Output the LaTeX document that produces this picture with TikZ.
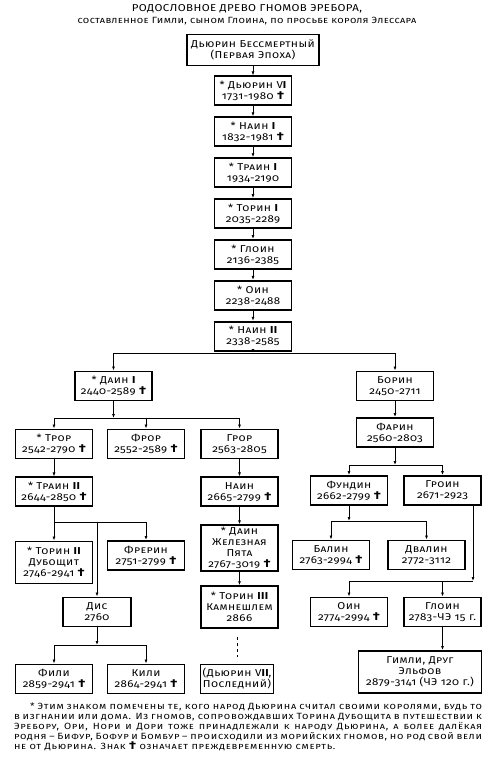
\documentclass[tikz,border=0pt]{standalone}
\usepackage{fontspec}
\setmainfont{Fira Sans}[Numbers=OldStyle, FakeStretch=1.15, LetterSpace=4]
\usetikzlibrary{positioning,arrows.meta}

\newcommand{\rn}[1]{{\bfseries #1}}
\newcommand{\dg}{{\fontsize{11.5}{11}\selectfont\bfseries †}}

\begin{document}
\begin{tikzpicture}[
        x=1pt, y=-1pt,
        node distance=10pt,
        dwarf/.style={draw, line width=1.9pt, minimum width=77pt, minimum height=29pt, inner sep=1pt, align=center, font=\fontsize{10}{11}\selectfont\scshape},
        tall/.style={dwarf, minimum height=42pt},
        link/.style={line width=0.8pt},
        >={Latex[length=4pt,width=3pt]}
    ]
        \useasboundingbox (0,0) rectangle (490,765);

        % Title
        \node (title) at (247,9) {\fontsize{10}{12}\selectfont РОДОСЛОВНОЕ ДРЕВО ГНОМОВ ЭРЕБОРА,};
        \node (subtitle) at (247,21) {\fontsize{9}{10}\selectfont\scshape составленное Гимли, сыном Глоина, по просьбе короля Элессара};

        % Main line
        \node[dwarf, minimum width=132pt, minimum height=31pt] (durin1) at (253,50) {Дьюрин Бессмертный\\(Первая Эпоха)};
        \node[dwarf, below=9pt of durin1] (durin6) {* Дьюрин V\rn{I}\\1731-1980 \dg};
        \node[dwarf, below=of durin6] (nain1) {* Наин \rn{I}\\1832-1981 \dg};
        \node[dwarf, below=of nain1] (thrain1) {* Траин \rn{I}\\1934-2190};
        \node[dwarf, below=of thrain1] (thorin1) {* Торин \rn{I}\\2035-2289};
        \node[dwarf, below=of thorin1] (gloin1) {* Глоин\\2136-2385};
        \node[dwarf, below=of gloin1] (oin1) {* Оин\\2238-2488};
        \node[dwarf, below=of oin1] (nain2) {* Наин \rn{II}\\2338-2585};

        % Branches
        \node[dwarf] (dain1) at (113.5,386) {* Даин \rn{I}\\2440-2589 \dg};
        \node[dwarf] (borin) at (395,386) {Борин\\2450-2711};
        \node[dwarf] (thror) at (54,444) {* Трор\\2542-2790 \dg};
        \node[dwarf] (fror) at (146,444) {Фрор\\2552-2589 \dg};
        \node[dwarf] (gror) at (239.5,444) {Грор\\2563-2805};
        \node[dwarf] (farin) at (395,432.5) {Фарин\\2560-2803};
        \node[dwarf, below=17pt of thror] (thrain2) {* Траин \rn{II}\\2644-2850 \dg};
        \node[dwarf, below=17pt of gror] (nain3) {Наин\\2665-2799 \dg};
        \node[dwarf] (fundin) at (349,490.5) {Фундин\\2662-2799 \dg};
        \node[dwarf] (groin) at (442.5,490.5) {Гроин\\2671-2923};
        \node[tall] (thorin2) at (54,562.5) {* Торин \rn{II}\\Дубощит\\2746-2941 \dg};
        \node[dwarf] (frerin) at (146,555.5) {Фрерин\\2751-2799 \dg};
        \node[dwarf, minimum height=46pt, below=17pt of nain3] (dain2) {* Даин\\Железная\\Пята\\2767-3019 \dg};
        \node[tall, below=13pt of dain2] (thorin3) {* Торин \rn{III}\\Камнешлем\\2866};
        \node[dwarf] (balin) at (331,555) {Балин\\2763-2994 \dg};
        \node[dwarf] (dwalin) at (426.5,555) {Двалин\\2772-3112};
        \node[dwarf, minimum width=68pt] (dis) at (97,612) {Дис\\2760};
        \node[dwarf] (oin2) at (349,612) {Оин\\2774-2994 \dg};
        \node[dwarf] (gloin2) at (442.5,612) {Глоин\\2783-ЧЭ 15 г.};
        \node[dwarf] (fili) at (54,679) {Фили\\2859-2941 \dg};
        \node[dwarf] (kili) at (146,679) {Кили\\2864-2941 \dg};
        \node[dwarf, minimum width=73pt] (durin7) at (237,679) {(Дьюрин V\rn{II},\\Последний)};
        \node[tall, minimum width=123pt] (gimli) at (420,672) {Гимли, Друг\\Эльфов\\2879-3141 (ЧЭ 120 г.)};

        % Footnote
        \node[text width=468pt, align=justify, inner sep=0pt, font=\fontsize{9}{10}\selectfont\scshape\addfontfeatures{LetterSpace=8}] (note) at (248,727) {\hspace*{16pt}* Этим знаком помечены те, кого народ Дьюрина считал своими королями, будь то\linebreak в изгнании или дома. Из гномов, сопровождавших Торина Дубощита в путешествии к\linebreak Эребору, Ори, Нори и Дори тоже принадлежали к народу Дьюрина, а более далёкая\linebreak родня – Бифур, Бофур и Бомбур – происходили из морийских гномов, но род свой вели\linebreak не от Дьюрина. Знак \dg{} означает преждевременную смерть.};

        % Junctions
        \coordinate (nain2-j) at (253,353);
        \coordinate (dain1-j) at (113.5,418);
        \coordinate (farin-j) at (395,465);
        \coordinate (thrain2-j) at (54,522);
        \coordinate (fundin-j) at (349,521);
        \coordinate (groin-j) at (473,581);
        \coordinate (dis-j) at (97,645);

        % Arrows
        \begin{scope}[link]
        \draw[->] (durin1) -- (durin6);
        \draw[->] (durin6) -- (nain1);
        \draw[->] (nain1) -- (thrain1);
        \draw[->] (thrain1) -- (thorin1);
        \draw[->] (thorin1) -- (gloin1);
        \draw[->] (gloin1) -- (oin1);
        \draw[->] (oin1) -- (nain2);
        \draw[->] (nain2) -- (nain2-j);
        \draw[->] (nain2-j) -| (dain1);
        \draw[->] (nain2-j) -| (borin);
        \draw[->] (dain1) -- (dain1-j);
        \draw[->] (dain1-j) -| (thror);
        \draw[->] (dain1-j) -| (fror);
        \draw[->] (dain1-j) -| (gror);
        \draw[->] (borin) -- (farin);
        \draw[->] (farin) -- (farin-j);
        \draw[->] (farin-j) -| (fundin);
        \draw[->] (farin-j) -| (groin);
        \draw[->] (thror) -- (thrain2);
        \draw[->] (gror) -- (nain3);
        \draw[->] (nain3) -- (dain2);
        \draw[->] (dain2) -- (thorin3);
        \draw[dashed] ([yshift=-8pt]thorin3.south -| durin7) -- ([yshift=7pt]durin7.north);
        \draw (thrain2) -- (thrain2-j);
        \draw[->] (thrain2-j) -| (thorin2);
        \draw[->] (thrain2-j) -| (frerin);
        \draw[->] (thrain2-j) -| (dis);
        \draw[->] (dis) -- (dis-j);
        \draw[->] (dis-j) -| (fili);
        \draw[->] (dis-j) -| (kili);
        \draw[->] (fundin) -- (fundin-j);
        \draw[->] (fundin-j) -| (balin);
        \draw[->] (fundin-j) -| (dwalin);
        \draw[->] (groin.south -| groin-j) -- (groin-j);
        \draw[->] (groin-j) -| (oin2);
        \draw[->] (groin-j) -| (gloin2);
        \draw[->] (gloin2) -- (gloin2 |- gimli.north);
        \end{scope}
    \end{tikzpicture}
\end{document}
